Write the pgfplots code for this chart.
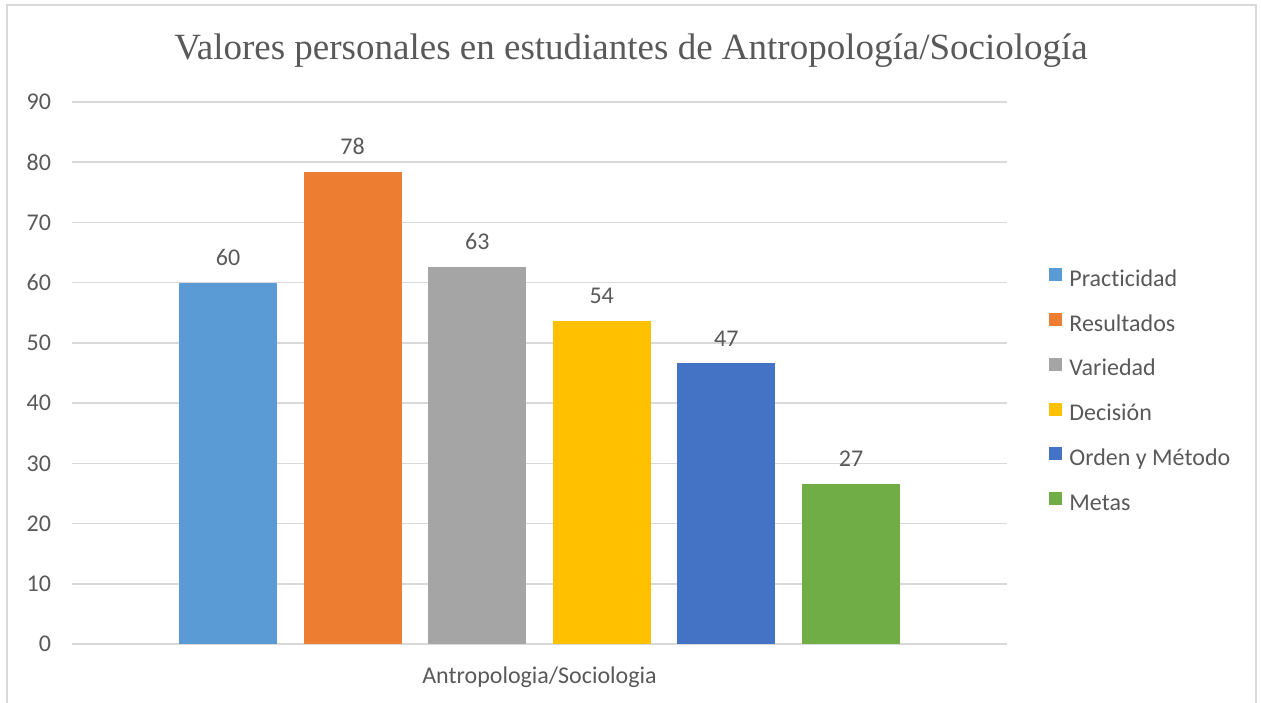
\documentclass[border=0pt]{standalone}
\usepackage{pgfplots}
\pgfplotsset{compat=1.18}
\usepackage{fontspec}
\setmainfont{Carlito}[Ligatures={NoCommon}]
\newfontfamily\titlefont{Liberation Serif}
\definecolor{c1}{HTML}{5B9BD5}
\definecolor{c2}{HTML}{ED7D31}
\definecolor{c3}{HTML}{A5A5A5}
\definecolor{c4}{HTML}{FFC000}
\definecolor{c5}{HTML}{4472C4}
\definecolor{c6}{HTML}{70AD47}
\definecolor{txt}{HTML}{595959}
\definecolor{grd}{HTML}{D9D9D9}
\begin{document}
\begin{tikzpicture}
\path[use as bounding box] (0pt,0pt) rectangle (630.5pt,-351pt);
\draw[grd,line width=1pt] (3.5pt,-360pt) -- (3.5pt,-2.5pt) -- (628pt,-2.5pt) -- (628pt,-360pt);
\node[anchor=base, font=\titlefont\fontsize{18.5}{22}\selectfont, text=txt, inner sep=0pt] at (315.5pt,-29.5pt) {Valores\ personales\ en\ estudiantes\ de Antropología/Sociología};
\begin{axis}[
  at={(36pt,-322pt)}, anchor=south west,
  scale only axis, width=467.5pt, height=271pt,
  xmin=-3.758, xmax=3.758, ymin=0, ymax=90,
  ytick={0,10,...,90}, xtick={0}, xticklabels={Antropologia/Sociologia},
  ymajorgrids, grid style={grd, line width=0.75pt},
  axis line style={draw=none}, major tick length=0pt,
  /pgf/number format/assume math mode=true,
  tick label style={font=\fontsize{12}{14}\selectfont, text=txt},
  yticklabel style={xshift=-7pt},
  xticklabel style={anchor=base, yshift=-19.5pt},
  ybar, bar width=0.788, bar shift=0pt,
  nodes near coords={\pgfmathprintnumber[fixed,precision=0,assume math mode=true]{\pgfplotspointmeta}},
  nodes near coords style={font=\fontsize{12}{14}\selectfont, text=txt, yshift=5pt},
  legend style={at={(1.0449,0.694)}, anchor=north west, draw=none, fill=none, inner sep=0pt,
    font=\fontsize{12}{14}\selectfont, text=txt, row sep=10.9pt,
    nodes={inner sep=0pt, text height=9pt, text depth=2.5pt},
    /tikz/every odd column/.append style={column sep=3.5pt}},
  legend cell align=left,
  legend image code/.code={\path[#1,draw=none] (0pt,-0.75pt) rectangle (6.5pt,5.75pt);},
]
\addplot[fill=c1, draw=none] coordinates {(-2.504,60.0)};
\addlegendentry{Practicidad}
\addplot[fill=c2, draw=none] coordinates {(-1.502,78.4)};
\addlegendentry{Resultados}
\addplot[fill=c3, draw=none] coordinates {(-0.500,62.6)};
\addlegendentry{Variedad}
\addplot[fill=c4, draw=none] coordinates {(0.500,53.7)};
\addlegendentry{Decisión}
\addplot[fill=c5, draw=none] coordinates {(1.502,46.6)};
\addlegendentry{Orden y Método}
\addplot[fill=c6, draw=none] coordinates {(2.504,26.6)};
\addlegendentry{Metas}
\end{axis}
\end{tikzpicture}
\end{document}
